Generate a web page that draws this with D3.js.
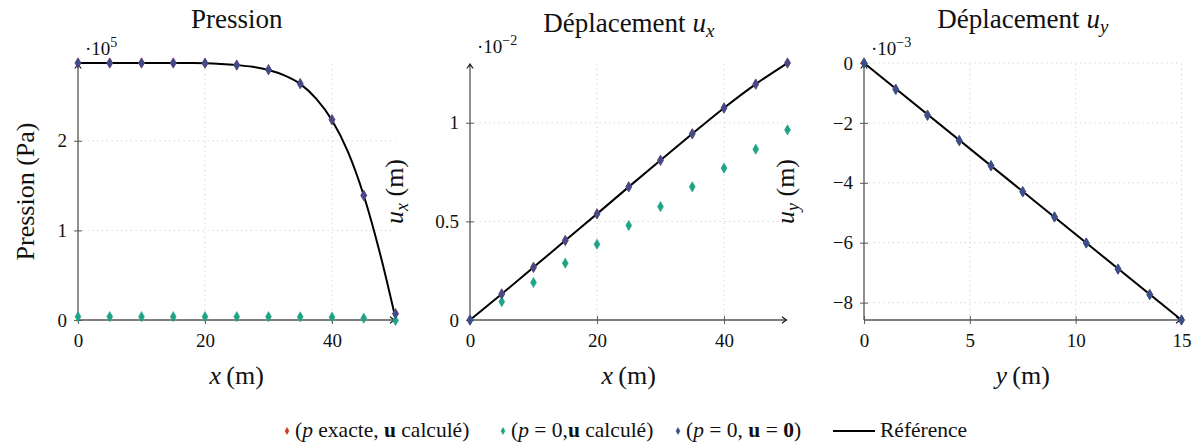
<!DOCTYPE html>
<html>
<head>
<meta charset="utf-8">
<script src="https://cdn.jsdelivr.net/npm/d3@7"></script>
<style>
    body { margin: 0; background: #fff; }
    svg text { font-family: "Liberation Serif", "DejaVu Serif", serif; fill: #111; }
</style>
</head>
<body>
<div id="chart"></div>
<script>

// abscisses des noeuds
var xNodes = [0, 5, 10, 15, 20, 25, 30, 35, 40, 45, 50]
var yNodes = [0, 1.5, 3, 4.5, 6, 7.5, 9, 10.5, 12, 13.5, 15]

// pression (x 1e5 Pa)
var pressRed   = [2.868, 2.868, 2.868, 2.868, 2.866, 2.845, 2.793, 2.637, 2.235, 1.39, 0.07]
var pressGreen = [0.037, 0.037, 0.037, 0.037, 0.037, 0.037, 0.037, 0.035, 0.032, 0.02, -0.005]
var pressBlue  = [2.868, 2.868, 2.868, 2.868, 2.866, 2.845, 2.793, 2.637, 2.235, 1.39, 0.07]
var pressRefX  = [0, 2.5, 5, 7.5, 10, 12.5, 15, 17.5, 20, 22.5, 25, 27.5, 30, 32.5, 35, 37.5, 40, 42.5, 45, 47.5, 50]
var pressRefY  = [2.868, 2.868, 2.868, 2.868, 2.868, 2.868, 2.868, 2.867, 2.865, 2.858, 2.845, 2.825, 2.79, 2.73, 2.635, 2.47, 2.23, 1.88, 1.39, 0.76, 0.02]

// deplacement u_x (x 1e-2 m)
var uxRed   = [0, 0.132, 0.267, 0.403, 0.538, 0.675, 0.81, 0.944, 1.075, 1.196, 1.303]
var uxGreen = [0, 0.093, 0.19, 0.288, 0.384, 0.479, 0.575, 0.675, 0.77, 0.866, 0.964]
var uxBlue  = [0, 0.132, 0.267, 0.403, 0.538, 0.675, 0.81, 0.944, 1.075, 1.196, 1.303]
var uxRef   = [0, 0.132, 0.267, 0.403, 0.538, 0.675, 0.81, 0.944, 1.075, 1.196, 1.303]

// deplacement u_y (x 1e-3 m)
var uyRed   = [0, -0.877, -1.743, -2.59, -3.43, -4.3, -5.14, -6.01, -6.88, -7.73, -8.58]
var uyGreen = [0, -0.877, -1.743, -2.59, -3.43, -4.3, -5.14, -6.01, -6.88, -7.73, -8.58]
var uyBlue  = [0, -0.877, -1.743, -2.59, -3.43, -4.3, -5.14, -6.01, -6.88, -7.73, -8.58]
var uyRefX  = [0, 15]
var uyRef   = [0, -8.58]

var pressTicksX = [0, 20, 40]
var pressTicksY = [0, 1, 2]
var uxTicksX = [0, 20, 40]
var uxTicksY = [0, 0.5, 1]
var uyTicksX = [0, 5, 10, 15]
var uyTicksY = [0, -2, -4, -6, -8]

var colors = { red: "#c93b2c", green: "#1fa386", blue: "#3e4b8c" }
var serif = "'Liberation Serif', 'DejaVu Serif', serif"

var width = 1198, height = 445
var plotTop = 63, plotBottom = 320, plotW = 317.5

var svg = d3.select("#chart").append("svg")
    .attr("width", width)
    .attr("height", height)

svg.append("defs").append("marker")
    .attr("id", "arrow")
    .attr("viewBox", "-6 -5 8 10")
    .attr("refX", 0)
    .attr("refY", 0)
    .attr("markerUnits", "userSpaceOnUse")
    .attr("markerWidth", 8)
    .attr("markerHeight", 10)
    .attr("orient", "auto")
    .append("path")
    .attr("d", "M-4.5,-3.2 Q-1.5,-0.8 0,0 Q-1.5,0.8 -4.5,3.2")
    .attr("fill", "none")
    .attr("stroke", "#111")
    .attr("stroke-width", 1.1)

var zip = function(xs, ys) { return xs.map(function(x, i) { return [x, ys[i]] }) }

var panels = [
    {
        left: 78, title: "press", xDomain: [0, 50], yDomain: [0, 2.868],
        xTicks: pressTicksX, yTicks: pressTicksY, xGrid: [20, 40], yGrid: [1, 2],
        ref: zip(pressRefX, pressRefY),
        series: [zip(xNodes, pressRed), zip(xNodes, pressGreen), zip(xNodes, pressBlue)],
        exp: "5", ylab: "press", ylabX: 34, xlab: "x", titleY: 28, expY: 55
    },
    {
        left: 470, title: "ux", xDomain: [0, 50], yDomain: [0, 1.303],
        xTicks: uxTicksX, yTicks: uxTicksY, xGrid: [20, 40], yGrid: [0.5, 1],
        ref: zip(xNodes, uxRef),
        series: [zip(xNodes, uxRed), zip(xNodes, uxGreen), zip(xNodes, uxBlue)],
        exp: "\u22122", ylab: "x", ylabX: 403, xlab: "x", titleY: 32, expY: 53
    },
    {
        left: 864, title: "uy", xDomain: [0, 15], yDomain: [-8.58, 0],
        xTicks: uyTicksX, yTicks: uyTicksY, xGrid: [5, 10, 15], yGrid: [0, -2, -4, -6, -8],
        ref: zip(uyRefX, uyRef),
        series: [zip(yNodes, uyRed), zip(yNodes, uyGreen), zip(yNodes, uyBlue)],
        exp: "\u22123", ylab: "y", ylabX: 794, xlab: "y", titleY: 28, expY: 55
    }
]

var seriesColors = [colors.red, colors.green, colors.blue]

panels.forEach(function(p) {
    var x = d3.scaleLinear().domain(p.xDomain).range([p.left, p.left + plotW])
    var y = d3.scaleLinear().domain(p.yDomain).range([plotBottom, plotTop])
    var g = svg.append("g")

    // grille pointillee
    g.append("g").selectAll("line")
        .data(p.xGrid)
        .enter().append("line")
        .attr("x1", function(d) { return x(d) })
        .attr("x2", function(d) { return x(d) })
        .attr("y1", plotBottom)
        .attr("y2", plotTop)
        .attr("stroke", "#cfcfcf")
        .attr("stroke-width", 1)
        .attr("stroke-dasharray", "1.2,3.6")
    g.append("g").selectAll("line")
        .data(p.yGrid)
        .enter().append("line")
        .attr("x1", p.left)
        .attr("x2", p.left + plotW)
        .attr("y1", function(d) { return y(d) })
        .attr("y2", function(d) { return y(d) })
        .attr("stroke", "#cfcfcf")
        .attr("stroke-width", 1)
        .attr("stroke-dasharray", "1.2,3.6")

    // axes
    var fmt = d3.format("~g")
    var ax = g.append("g")
        .attr("transform", "translate(0," + plotBottom + ")")
        .call(d3.axisBottom(x).tickValues(p.xTicks).tickSize(4).tickPadding(10).tickFormat(fmt))
    var ay = g.append("g")
        .attr("transform", "translate(" + p.left + ",0)")
        .call(d3.axisLeft(y).tickValues(p.yTicks).tickSize(4).tickPadding(7).tickFormat(fmt))
    ;[ax, ay].forEach(function(a) {
        a.attr("font-family", serif).attr("font-size", 19)
        a.select(".domain").remove()
        a.selectAll(".tick text").style("font-family", serif).style("font-size", "19px").attr("fill", "#111")
        a.selectAll(".tick line").attr("stroke", "#666").attr("stroke-width", 1.1)
    })
    ax.selectAll(".tick line").attr("y1", -4)
    ay.selectAll(".tick line").attr("x1", 4)

    g.append("line")
        .attr("x1", p.left).attr("y1", plotBottom)
        .attr("x2", p.left + plotW - 1).attr("y2", plotBottom)
        .attr("stroke", "#555").attr("stroke-width", 1.3)
        .attr("marker-end", "url(#arrow)")
    g.append("line")
        .attr("x1", p.left).attr("y1", plotBottom)
        .attr("x2", p.left).attr("y2", plotTop + 1)
        .attr("stroke", "#555").attr("stroke-width", 1.3)
        .attr("marker-end", "url(#arrow)")

    // courbe de reference
    var line = d3.line()
        .x(function(d) { return x(d[0]) })
        .y(function(d) { return y(d[1]) })
        .curve(d3.curveMonotoneX)
    g.append("path")
        .datum(p.ref)
        .attr("d", line)
        .attr("fill", "none")
        .attr("stroke", "#000")
        .attr("stroke-width", 2)

    // marqueurs
    var diamond = d3.symbol().type(d3.symbolDiamond).size(30)
    p.series.forEach(function(s, k) {
        g.append("g").selectAll("path")
            .data(s)
            .enter().append("path")
            .attr("d", diamond)
            .attr("transform", function(d) { return "translate(" + x(d[0]) + "," + y(d[1]) + ")" })
            .attr("fill", seriesColors[k])
            .attr("stroke", seriesColors[k])
            .attr("stroke-width", 0.6)
    })

    // multiplicateur
    var m = g.append("text")
        .attr("x", p.left + 7)
        .attr("y", p.expY)
        .style("font-size", "19px")
    m.append("tspan").text("\u00b710")
    m.append("tspan").attr("dy", -8).style("font-size", "14px").text(p.exp)

    // titre
    var cx = p.left + plotW / 2
    var t = g.append("text")
        .attr("x", cx)
        .attr("y", p.titleY)
        .attr("text-anchor", "middle")
        .style("font-size", "27px")
    if (p.title == "press") {
        t.text("Pression")
    } else {
        t.append("tspan").text("D\u00e9placement ")
        t.append("tspan").style("font-style", "italic").text("u")
        t.append("tspan").attr("dy", 5).style("font-style", "italic").style("font-size", "19px")
            .text(p.title == "ux" ? "x" : "y")
    }

    // libelle axe x
    var xl = g.append("text")
        .attr("x", cx)
        .attr("y", 384)
        .attr("text-anchor", "middle")
        .style("font-size", "26px")
    xl.append("tspan").style("font-style", "italic").text(p.xlab)
    xl.append("tspan").text("\u2009(m)")

    // libelle axe y
    var yl = g.append("text")
        .attr("transform", "translate(" + p.ylabX + "," + ((plotTop + plotBottom) / 2) + ")rotate(-90)")
        .attr("text-anchor", "middle")
        .style("font-size", "26px")
    if (p.ylab == "press") {
        yl.text("Pression (Pa)")
    } else {
        yl.append("tspan").style("font-style", "italic").text("u")
        yl.append("tspan").attr("dy", 5).style("font-style", "italic").style("font-size", "18px").text(p.ylab)
        yl.append("tspan").attr("dy", -5).text(" (m)")
    }
})

// legende
var legend = svg.append("g")
var legY = 437
var legDiamond = d3.symbol().type(d3.symbolDiamond).size(14)

var legItems = [
    { mx: 287, tx: 295, color: colors.red, parts: [["(", ""], ["p", "i"], [" exacte, ", ""], ["u", "b"], [" calcul\u00e9)", ""]] },
    { mx: 503, tx: 511, color: colors.green, parts: [["(", ""], ["p", "i"], [" = 0,", ""], ["u", "b"], [" calcul\u00e9)", ""]] },
    { mx: 678, tx: 686, color: colors.blue, parts: [["(", ""], ["p", "i"], [" = 0, ", ""], ["u", "b"], [" = ", ""], ["0", "b"], [")", ""]] }
]

legItems.forEach(function(it) {
    legend.append("path")
        .attr("d", legDiamond)
        .attr("transform", "translate(" + it.mx + "," + (legY - 6) + ")")
        .attr("fill", it.color)
        .attr("stroke", it.color)
        .attr("stroke-width", 0.5)
    var tx = legend.append("text")
        .attr("x", it.tx)
        .attr("y", legY)
        .style("font-size", "21.5px")
        .style("white-space", "pre")
    it.parts.forEach(function(pt) {
        tx.append("tspan")
            .style("font-style", pt[1] == "i" ? "italic" : null)
            .style("font-weight", pt[1] == "b" ? "bold" : null)
            .text(pt[0])
    })
})

legend.append("line")
    .attr("x1", 833).attr("x2", 875)
    .attr("y1", legY - 6).attr("y2", legY - 6)
    .attr("stroke", "#000").attr("stroke-width", 2)
legend.append("text")
    .attr("x", 880)
    .attr("y", legY)
    .style("font-size", "21.5px")
    .text("R\u00e9f\u00e9rence")

</script>
</body>
</html>
